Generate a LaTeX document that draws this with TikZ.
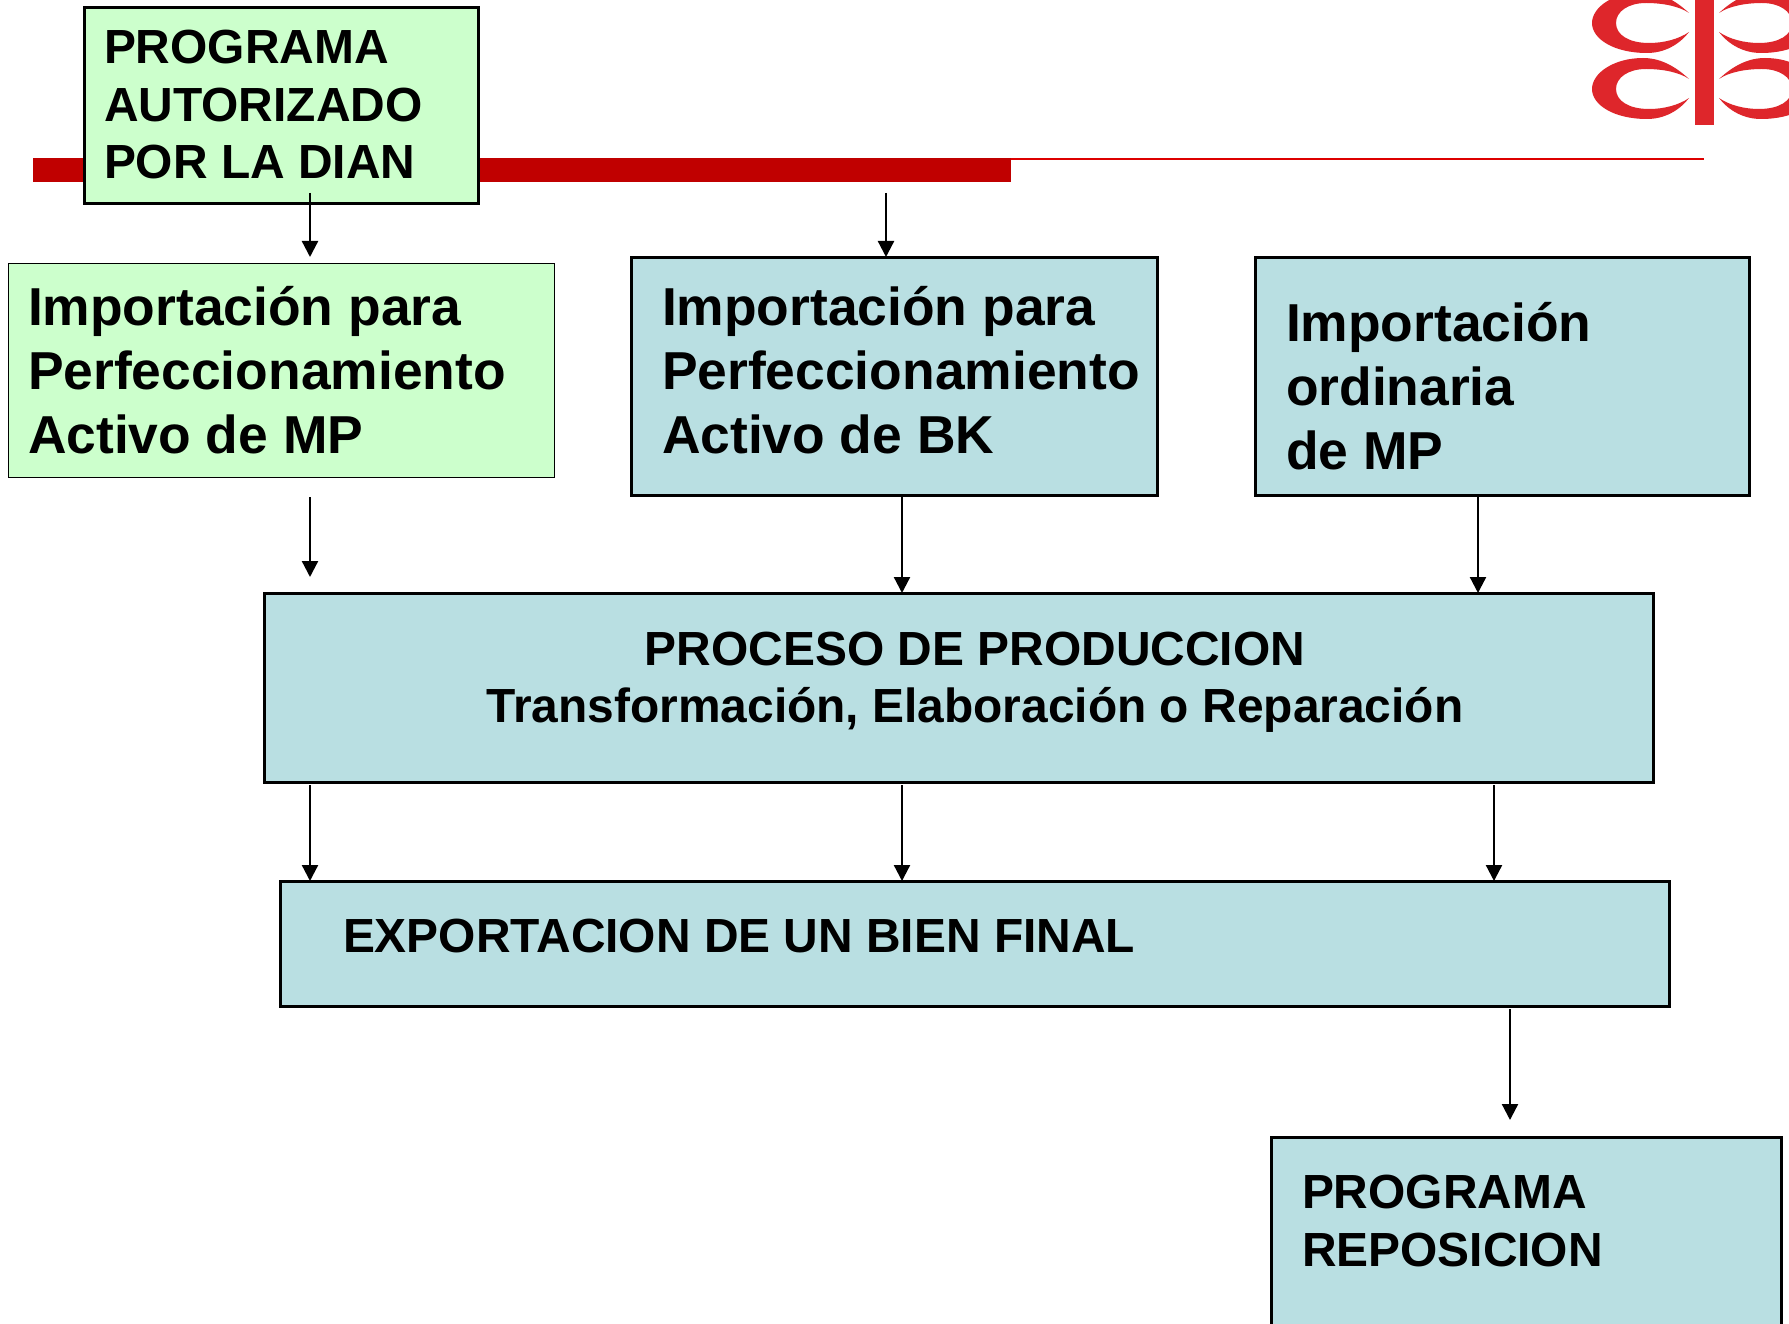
\documentclass[tikz,border=0pt]{standalone}
\usepackage{fontspec}
\setmainfont{Liberation Sans}
\usetikzlibrary{arrows.meta}
\definecolor{boxgreen}{HTML}{CCFFCC}
\definecolor{boxblue}{HTML}{B9DFE2}
\definecolor{barred}{HTML}{C00000}
\definecolor{thinred}{HTML}{DD0000}
\definecolor{logored}{HTML}{DE262B}
\tikzset{
  x=1pt,y=-1pt,
  flowbox/.style={draw=black,line width=3pt,inner sep=0pt,outer sep=0pt,anchor=north west},
  greenbox/.style={flowbox,fill=boxgreen},
  bluebox/.style={flowbox,fill=boxblue},
  thinbox/.style={line width=1pt},
  bigtext/.style={font=\bfseries\fontsize{53.4}{64}\selectfont,align=left,anchor=base west,inner sep=0pt,outer sep=0pt},
  midtext/.style={font=\bfseries\fontsize{47.9}{57.5}\selectfont,align=left,anchor=base west,inner sep=0pt,outer sep=0pt},
  flowarrow/.style={draw=black,line width=2.3pt,-{Triangle[length=16pt,width=16pt]}},
  crescent/.pic={
    \fill[logored] (-15,-10) .. controls (-30,-24) and (-45,-31) .. (-61,-31)
      .. controls (-90,-31) and (-112,-16) .. (-112,0)
      .. controls (-112,16) and (-90,30) .. (-57,30)
      .. controls (-40,30) and (-25,22) .. (-15,9)
      .. controls (-25,16) and (-40,20) .. (-55,20)
      .. controls (-75,20) and (-88,12) .. (-88,0)
      .. controls (-88,-12) and (-75,-20) .. (-58,-20)
      .. controls (-42,-20) and (-25,-17) .. (-15,-10) -- cycle;
  },
}
\begin{document}
\begin{tikzpicture}
\useasboundingbox (0,0) rectangle (1789,1324);
\clip (0,0) rectangle (1789,1324);
\fill[white] (0,0) rectangle (1789,1324);
% title rule
\fill[barred] (33,158) rectangle (1011,182);
\draw[thinred,line width=2.4pt] (1011,159) -- (1704,159);
% logo
\fill[logored] (1695,0) rectangle (1714,125);
\pic at (1704,23) {crescent};
\pic at (1704,89) {crescent};
\pic[xscale=-1] at (1704,23) {crescent};
\pic[xscale=-1] at (1704,89) {crescent};
% boxes
\node[greenbox,minimum width=394pt,minimum height=196pt] (dian) at (84,8) {};
\node[greenbox,thinbox,minimum width=546pt,minimum height=213pt] (mp) at (8,264) {};
\node[bluebox,minimum width=526pt,minimum height=237pt] (bk) at (631,258) {};
\node[bluebox,minimum width=494pt,minimum height=237pt] (ord) at (1255,258) {};
\node[bluebox,minimum width=1389pt,minimum height=189pt] (proc) at (264,593) {};
\node[bluebox,minimum width=1389pt,minimum height=125pt] (exp) at (280,881) {};
\node[bluebox,minimum width=510pt,minimum height=240pt] (rep) at (1271,1137) {};
% texts
\node[midtext] (tdian) at (104,179) {PROGRAMA\\AUTORIZADO\\POR LA DIAN};
\node[bigtext] (tmp) at (28,453.5) {Importación para\\Perfeccionamiento\\Activo de MP};
\node[bigtext] (tbk) at (662,453) {Importación para\\Perfeccionamiento\\Activo de BK};
\node[bigtext] (tord) at (1286,469) {Importación\\ordinaria\\de MP};
\node[midtext,align=center,anchor=base] (tproc) at (975,722.5) {PROCESO DE PRODUCCION\\Transformación, Elaboración o Reparación};
\node[midtext] (texp) at (343,952) {EXPORTACION DE UN BIEN FINAL};
\node[midtext] (trep) at (1302,1266) {PROGRAMA\\REPOSICION};
% free arrow ends
\coordinate (a1s) at (310,193);
\coordinate (a1e) at (310,257);
\coordinate (a2s) at (886,193);
\coordinate (a2e) at (886,257);
\coordinate (a3s) at (310,497);
\coordinate (a3e) at (310,577);
\coordinate (x1) at (902,0);
\coordinate (x2) at (1478,0);
\coordinate (y1) at (310,785);
\coordinate (y2) at (902,785);
\coordinate (y3) at (1494,785);
\coordinate (z1) at (1510,1009);
\coordinate (z2) at (1510,1120);
% connectors
\draw[flowarrow] (a1s) -- (a1e);
\draw[flowarrow] (a2s) -- (a2e);
\draw[flowarrow] (a3s) -- (a3e);
\draw[flowarrow] (x1 |- bk.south) -- (x1 |- proc.north);
\draw[flowarrow] (x2 |- ord.south) -- (x2 |- proc.north);
\draw[flowarrow] (y1) -- (y1 |- exp.north);
\draw[flowarrow] (y2) -- (y2 |- exp.north);
\draw[flowarrow] (y3) -- (y3 |- exp.north);
\draw[flowarrow] (z1) -- (z2);
\end{tikzpicture}
\end{document}
